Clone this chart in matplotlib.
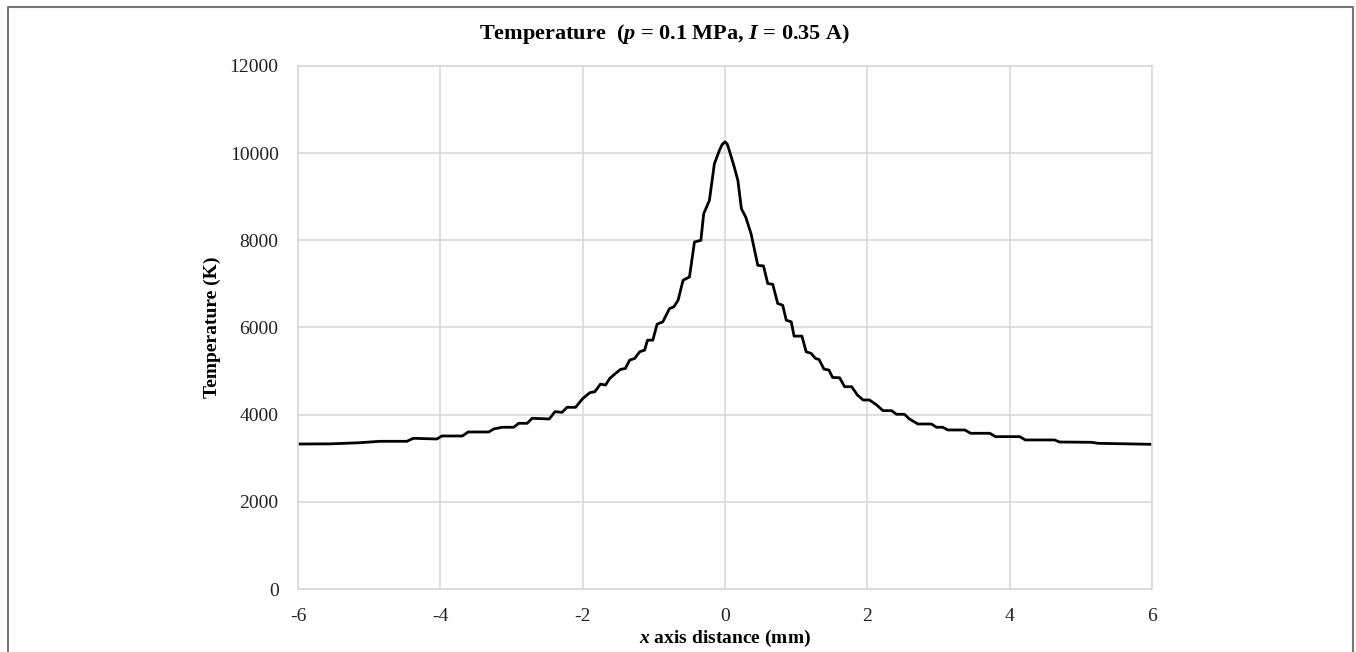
import matplotlib.pyplot as plt

plt.rcParams['font.family'] = ['Liberation Serif', 'DejaVu Serif']
plt.rcParams['mathtext.fontset'] = 'custom'
plt.rcParams['mathtext.rm'] = 'Liberation Serif:bold'
plt.rcParams['mathtext.it'] = 'Liberation Serif:italic:bold'
plt.rcParams['mathtext.bf'] = 'Liberation Serif:bold'
plt.rcParams['axes.unicode_minus'] = False

# temperature profile along x (stepped curve)
x_mm = [-6.0, -5.55, -5.13, -4.85, -4.47, -4.38, -4.05, -3.98, -3.69, -3.61,
        -3.32, -3.25, -3.13, -2.97, -2.90, -2.78, -2.71, -2.47, -2.39, -2.29,
        -2.22, -2.10, -2.00, -1.90, -1.83, -1.75, -1.68, -1.62, -1.55, -1.47,
        -1.40, -1.34, -1.27, -1.20, -1.13, -1.09, -1.015, -0.955, -0.875, -0.78,
        -0.72, -0.66, -0.59, -0.50, -0.43, -0.34, -0.30, -0.22, -0.15, -0.08,
        -0.04, 0.0, 0.03,
        0.06, 0.13, 0.18, 0.23, 0.29, 0.365, 0.46, 0.54, 0.60, 0.67,
        0.74, 0.81, 0.86, 0.93, 0.97, 1.08, 1.14, 1.21, 1.27, 1.32,
        1.39, 1.46, 1.51, 1.61, 1.68, 1.78, 1.86, 1.94, 2.03, 2.13,
        2.22, 2.34, 2.41, 2.52, 2.59, 2.71, 2.90, 2.97, 3.06, 3.13,
        3.37, 3.45, 3.72, 3.80, 4.14, 4.22, 4.63, 4.70, 5.15, 5.24, 6.0]
temp_k = [3327, 3330, 3357, 3389, 3389, 3458, 3442, 3511, 3511, 3603,
          3603, 3672, 3711, 3711, 3802, 3802, 3917, 3901, 4069, 4054,
          4169, 4169, 4370, 4504, 4527, 4702, 4679, 4832, 4931, 5038,
          5061, 5252, 5290, 5443, 5481, 5710, 5710, 6076, 6130, 6435,
          6473, 6626, 7084, 7160, 7962, 8000, 8611, 8916, 9756, 10061,
          10200, 10260, 10210,
          10061, 9679, 9374, 8725, 8534, 8153, 7427, 7412, 7008, 6992,
          6550, 6511, 6168, 6130, 5802, 5802, 5443, 5405, 5290, 5267,
          5046, 5023, 4855, 4847, 4641, 4641, 4450, 4337, 4337, 4222,
          4092, 4092, 4009, 4009, 3901, 3786, 3786, 3711, 3711, 3649,
          3649, 3573, 3573, 3496, 3496, 3420, 3420, 3373, 3366, 3343, 3320]

x_ticks = [-6, -4, -2, 0, 2, 4, 6]
y_ticks = [0, 2000, 4000, 6000, 8000, 10000, 12000]

fig = plt.figure(figsize=(13.56, 6.52), dpi=100)
ax = fig.add_axes([0.2198, 0.0966, 0.6298, 0.8022])

ax.plot(x_mm, temp_k, color='black', linewidth=2.0, solid_joinstyle='round')

ax.set_xlim(-6, 6)
ax.set_ylim(0, 12000)
ax.set_xticks(x_ticks)
ax.set_yticks(y_ticks)
ax.tick_params(length=0, labelsize=14, colors='#222222')
ax.tick_params(axis='y', pad=14)
ax.tick_params(axis='x', pad=14)
ax.grid(True, color='#d9d9d9', linewidth=1.2)
ax.set_axisbelow(True)
for s in ax.spines.values():
    s.set_color('#d9d9d9')
    s.set_linewidth(1.2)

ax.set_xlabel('$x$ axis distance (mm)', fontsize=14, fontweight='bold', labelpad=2)
ax.set_ylabel('Temperature (K)', fontsize=14, fontweight='bold', labelpad=6)
fig.text(0.490, 0.948, 'Temperature  ($p$ = 0.1 MPa, $I$ = 0.35 A)',
         ha='center', va='center', fontsize=16, fontweight='bold')

# thin grey frame round the figure (no bottom edge)
fig.add_artist(plt.Line2D([8/1356, 8/1356, 1353/1356, 1353/1356],
                          [0, 1 - 7/652, 1 - 7/652, 0],
                          color='#777777', linewidth=1.5,
                          transform=fig.transFigure))

fig.savefig('out.png', dpi=100, facecolor='white')
